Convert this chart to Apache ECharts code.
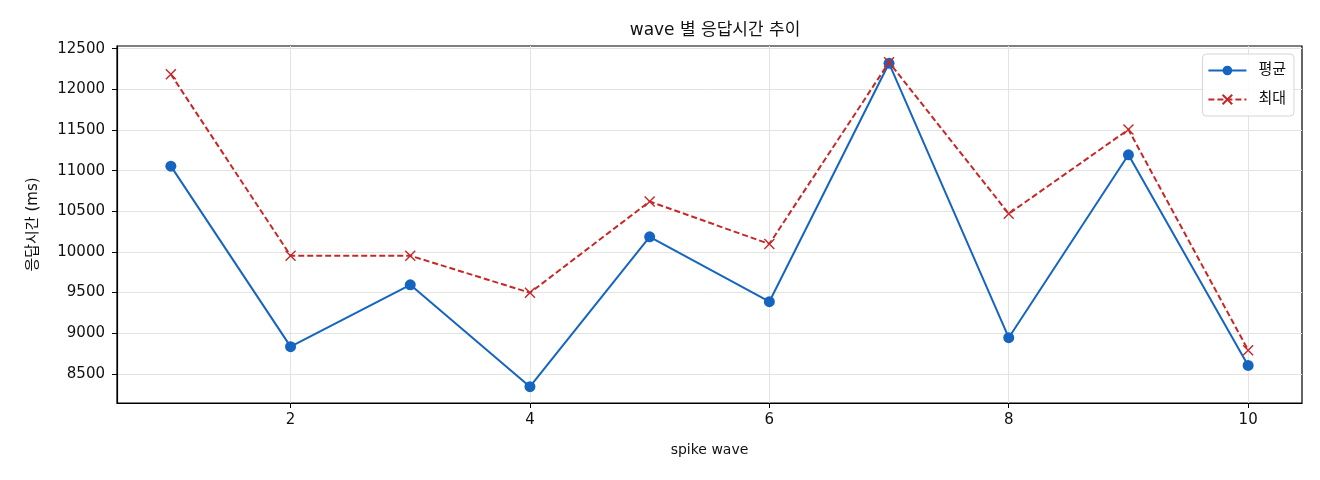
<!DOCTYPE html>
<html>
<head>
<meta charset="utf-8">
<script src="https://cdn.jsdelivr.net/npm/echarts@6/dist/echarts.min.js"></script>
<style>html,body{margin:0;padding:0;background:#fff}#c{width:1320px;height:480px}</style>
</head>
<body>
<div id="c"></div>
<script>
const waves = [1, 2, 3, 4, 5, 6, 7, 8, 9, 10];
const avgValues = [11055, 8835, 9596, 8343, 10186, 9388, 12320, 8945, 11195, 8604];
const maxValues = [12185, 9954, 9954, 9498, 10620, 10098, 12333, 10470, 11505, 8792];
const xTicks = [2, 4, 6, 8, 10];
const yTicks = [8500, 9000, 9500, 10000, 10500, 11000, 11500, 12000, 12500];

const FONT = '"DejaVu Sans", "Noto Sans CJK KR", sans-serif';
const chart = echarts.init(document.getElementById('c'), null, {renderer: 'canvas'});
const crossPath = 'path://M0,0L10,10M10,0L0,10';

chart.setOption({
  animation: false,
  backgroundColor: '#fff',
  textStyle: {fontFamily: FONT},
  title: {
    text: 'wave 별 응답시간 추이',
    left: 710, top: 17, textAlign: 'center',
    textStyle: {fontFamily: FONT, fontSize: 17, fontWeight: 'normal', color: '#111'}
  },
  legend: {
    orient: 'vertical', right: 26, top: 54,
    itemWidth: 38, itemHeight: 12, itemGap: 14,
    padding: [9, 8, 9, 5],
    borderColor: '#d5d5d5', borderWidth: 1, borderRadius: 4,
    backgroundColor: 'rgba(255,255,255,0.85)',
    textStyle: {fontFamily: FONT, fontSize: 15, color: '#111', padding: [0, 0, 0, 7]},
    data: ['평균', '최대']
  },
  grid: {
    left: 117, right: 18, top: 46, bottom: 77,
    show: true, borderColor: '#000', borderWidth: 1.2
  },
  xAxis: {
    type: 'value', min: 0.55, max: 10.45,
    name: 'spike wave', nameLocation: 'middle', nameGap: 40,
    nameTextStyle: {fontFamily: FONT, fontSize: 14, color: '#111'},
    axisLine: {show: true, lineStyle: {color: '#000', width: 1.2}},
    axisTick: {show: true, length: 5, customValues: xTicks, lineStyle: {color: '#000'}},
    axisLabel: {customValues: xTicks, fontFamily: FONT, fontSize: 15, color: '#111', margin: 10,
      formatter: v => String(v)},
    splitLine: {show: true, lineStyle: {color: '#e3e3e3', width: 1}}
  },
  yAxis: {
    type: 'value', min: 8142, max: 12533,
    name: '응답시간 (ms)', nameLocation: 'middle', nameGap: 76, nameRotate: 90,
    nameTextStyle: {fontFamily: FONT, fontSize: 15, color: '#111'},
    axisLine: {show: true, lineStyle: {color: '#000', width: 1.2}},
    axisTick: {show: true, length: 5, customValues: yTicks, lineStyle: {color: '#000'}},
    axisLabel: {customValues: yTicks, fontFamily: FONT, fontSize: 15, color: '#111', margin: 12,
      formatter: v => String(v)},
    splitLine: {show: true, lineStyle: {color: '#e3e3e3', width: 1}}
  },
  series: [
    {
      name: '평균', type: 'line',
      data: waves.map((w, i) => [w, avgValues[i]]),
      symbol: 'circle', symbolSize: 11,
      lineStyle: {color: '#1565c0', width: 2},
      itemStyle: {color: '#1565c0'},
      z: 3
    },
    {
      name: '최대', type: 'line',
      data: waves.map((w, i) => [w, maxValues[i]]),
      symbol: crossPath, symbolSize: 10,
      lineStyle: {color: '#c62828', width: 2, type: [6, 3]},
      itemStyle: {color: '#c62828', borderColor: '#c62828', borderWidth: 1.4},
      z: 4
    }
  ]
});
</script>
</body>
</html>
